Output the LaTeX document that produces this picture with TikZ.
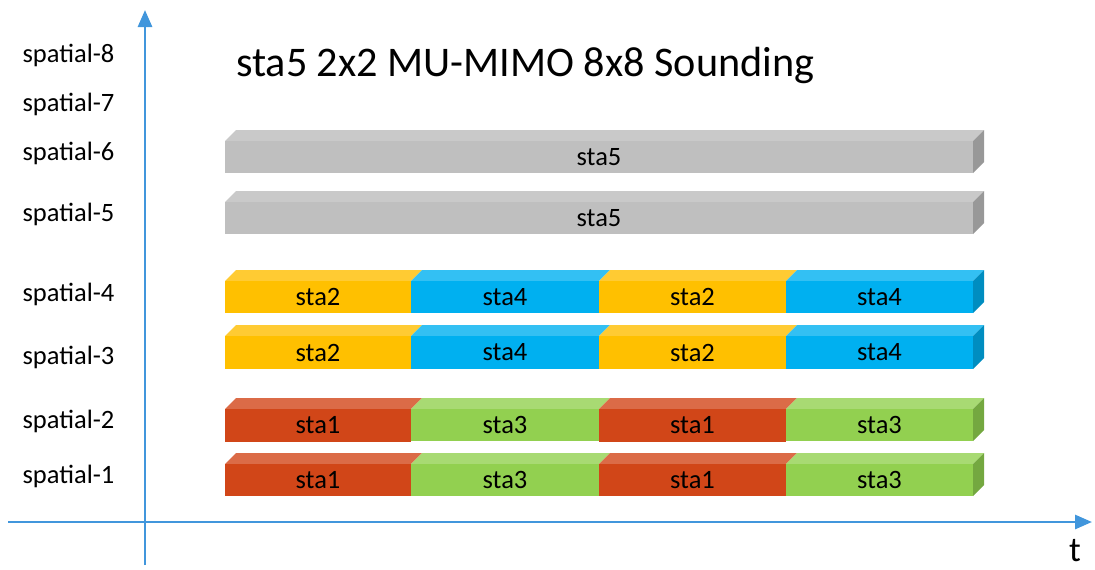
\documentclass[tikz,border=0pt]{standalone}
\usepackage{fontspec}
\setmainfont{Carlito}
\usetikzlibrary{arrows.meta}
\definecolor{axisblue}{HTML}{4196DC}
\definecolor{gray}{HTML}{BFBFBF}\definecolor{graytop}{HTML}{C9C9C9}\definecolor{grayside}{HTML}{989898}
\definecolor{yel}{HTML}{FFC000}\definecolor{yeltop}{HTML}{FFCB33}\definecolor{yelside}{HTML}{CC9A00}
\definecolor{blu}{HTML}{00B0F0}\definecolor{blutop}{HTML}{33C0F3}\definecolor{bluside}{HTML}{008DC0}
\definecolor{red}{HTML}{D14618}\definecolor{redtop}{HTML}{DB6B47}\definecolor{redside}{HTML}{A73813}
\definecolor{grn}{HTML}{92D050}\definecolor{grntop}{HTML}{A8DA73}\definecolor{grnside}{HTML}{74A840}
\newcommand\myseg[7]{% name, x1, x2, ytop, ybot, colour, label
  \fill[#6top] (#2,#4) -- (#2+11,#4-11) -- (#3+11,#4-11) -- (#3,#4) -- cycle;
  \fill[#6] (#2,#4) rectangle (#3,#5);
  \node[lbl] (#1) at ({(#2+#3)/2},{(#4+#5)/2}) {#7};
}
\newcommand\myside[4]{% x, ytop, ybot, colour
  \fill[#4side] (#1,#2) -- (#1+11,#2-11) -- (#1+11,#3-11) -- (#1,#3) -- cycle;
}
\begin{document}
\begin{tikzpicture}[x=1pt,y=-1pt,
  lbl/.style={inner sep=0pt,font=\fontsize{26.5}{30}\selectfont},
  ylab/.style={inner sep=0pt,font=\fontsize{26.5}{30}\selectfont},
  axis/.style={draw=axisblue,line width=2.8pt,-{Triangle[length=17pt,width=14pt]}}]
\useasboundingbox (0,0) rectangle (1095,570);
% axes
\coordinate (yo) at (145,565);
\coordinate (yt) at (145,10);
\coordinate (xo) at (8,522);
\coordinate (xt) at (1092,522);
\draw[axis] (yo) -- (yt);
\draw[axis] (xo) -- (xt);
\node[inner sep=0pt,font=\fontsize{35}{38}\selectfont] (t) at (1075,551) {t};
% y labels
\node[ylab] (s8) at (68.5,55) {spatial-8};
\node[ylab] (s7) at (68.5,104) {spatial-7};
\node[ylab] (s6) at (68.5,153) {spatial-6};
\node[ylab] (s5) at (68.5,214) {spatial-5};
\node[ylab] (s4) at (68.5,294) {spatial-4};
\node[ylab] (s3) at (68.5,357) {spatial-3};
\node[ylab] (s2) at (68.5,421) {spatial-2};
\node[ylab] (s1) at (68.5,476) {spatial-1};
% title
\node[anchor=west,inner sep=0pt,font=\fontsize{42.2}{46}\selectfont] (title) at (236,65) {sta5 2x2 MU-MIMO 8x8 Sounding};
% gray bars
\myseg{g6}{225}{973}{141}{173}{gray}{sta5}
\myside{973}{141}{173}{gray}
\myseg{g5}{225}{973}{202}{234}{gray}{sta5}
\myside{973}{202}{234}{gray}
% spatial 4
\myseg{a1}{225}{411}{281}{313}{yel}{sta2}
\myseg{a2}{411}{599}{281}{313}{blu}{sta4}
\myseg{a3}{599}{786}{281}{313}{yel}{sta2}
\myseg{a4}{786}{973}{281}{313}{blu}{sta4}
\myside{973}{281}{313}{blu}
% spatial 3
\myseg{b1}{225}{411}{336}{369}{yel}{sta2}
\myseg{b2}{411}{599}{336}{369}{blu}{sta4}
\myseg{b3}{599}{786}{336}{369}{yel}{sta2}
\myseg{b4}{786}{973}{336}{369}{blu}{sta4}
\myside{973}{336}{369}{blu}
% spatial 2
\myseg{c1}{225}{411}{409}{442}{red}{sta1}
\myseg{c2}{411}{599}{409}{441}{grn}{sta3}
\myseg{c3}{599}{786}{409}{442}{red}{sta1}
\myseg{c4}{786}{973}{409}{441}{grn}{sta3}
\myside{973}{409}{441}{grn}
% spatial 1
\myseg{d1}{225}{411}{464}{496}{red}{sta1}
\myseg{d2}{411}{599}{464}{496}{grn}{sta3}
\myseg{d3}{599}{786}{464}{496}{red}{sta1}
\myseg{d4}{786}{973}{464}{496}{grn}{sta3}
\myside{973}{464}{496}{grn}
\end{tikzpicture}
\end{document}
